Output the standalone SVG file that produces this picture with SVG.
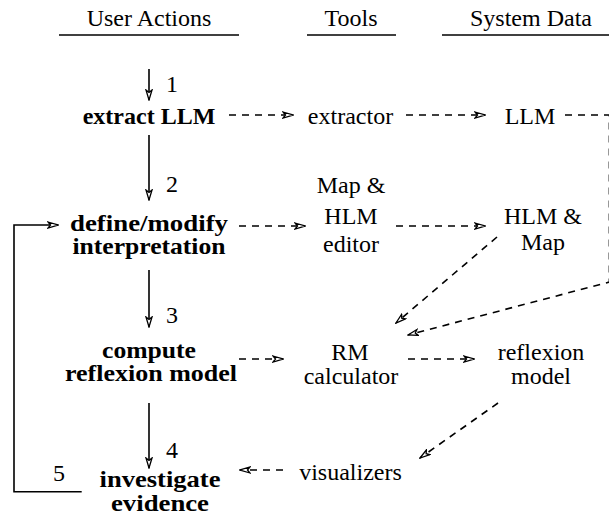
<svg xmlns="http://www.w3.org/2000/svg" width="609" height="519" viewBox="0 0 609 519" font-family="Liberation Serif, DejaVu Serif, serif" font-size="24">
<defs>
<marker id="ah" viewBox="0 0 12 8" markerWidth="12" markerHeight="8" refX="11" refY="4" orient="auto" markerUnits="userSpaceOnUse">
<path d="M1,1 L11,4 L1,7 L3.5,4 Z" fill="#fff" stroke="#000" stroke-width="1.3" stroke-dasharray="none" stroke-linejoin="miter"/>
</marker>
<style>
text{fill:#000;text-anchor:middle}
.b{font-weight:bold}
.n{text-anchor:start}
.rule{stroke:#000;stroke-width:1.3}
.solid{stroke:#000;stroke-width:1.6;fill:none}
.dash{stroke:#000;stroke-width:1.6;fill:none;stroke-dasharray:7 6}
.arr{marker-end:url(#ah)}
</style>
</defs>
<rect width="609" height="519" fill="#fff"/>
<g id="headers">
<text x="149" y="25.5">User Actions</text>
<line class="rule" x1="59" y1="35" x2="239" y2="35"/>
<text x="351" y="25.5">Tools</text>
<line class="rule" x1="307" y1="35" x2="396" y2="35"/>
<text x="531" y="25.5">System Data</text>
<line class="rule" x1="442" y1="35" x2="609" y2="35"/>
</g>
<g id="connectors">
<line class="solid arr" x1="149" y1="69" x2="149" y2="100"/>
<line class="solid arr" x1="149" y1="135" x2="149" y2="200"/>
<line class="solid arr" x1="149" y1="270" x2="149" y2="327"/>
<line class="solid arr" x1="149" y1="403" x2="149" y2="468"/>
<path class="solid arr" d="M81.7,491.7 L14,491.7 L14,225 L58,225"/>
<line class="dash arr" x1="229" y1="115" x2="293" y2="115"/>
<line class="dash arr" x1="406" y1="115" x2="485" y2="115"/>
<path class="dash arr" d="M565,115 L609.4,115 L609.4,282 L408,335"/>
<line class="dash arr" x1="239" y1="226" x2="305" y2="226"/>
<line class="dash arr" x1="396" y1="226" x2="485" y2="226"/>
<line class="dash arr" x1="497" y1="237" x2="396" y2="323"/>
<line class="dash arr" x1="239" y1="359" x2="283" y2="359"/>
<line class="dash arr" x1="408" y1="359" x2="474" y2="359"/>
<line class="dash arr" x1="498" y1="403" x2="420" y2="458"/>
<line class="dash arr" x1="283" y1="470" x2="240" y2="470"/>
</g>
<g id="step-labels">
<text class="n" x="166" y="92">1</text>
<text class="n" x="166" y="192">2</text>
<text class="n" x="166" y="323">3</text>
<text class="n" x="166" y="458">4</text>
<text class="n" x="53" y="481">5</text>
</g>
<g id="extract-llm"><text class="b" x="149" y="124">extract LLM</text></g>
<g id="extractor"><text x="350.5" y="124">extractor</text></g>
<g id="llm"><text x="530" y="124">LLM</text></g>
<g id="define-modify"><text class="b" x="149" y="231" textLength="158" lengthAdjust="spacingAndGlyphs">define/modify</text><text class="b" x="149" y="254" textLength="153" lengthAdjust="spacingAndGlyphs">interpretation</text></g>
<g id="map-hlm-editor"><text x="351" y="193">Map &amp;</text><text x="351" y="224">HLM</text><text x="351" y="252">editor</text></g>
<g id="hlm-map"><text x="543" y="224">HLM &amp;</text><text x="543" y="250">Map</text></g>
<g id="compute-rm"><text class="b" x="149" y="358" textLength="94" lengthAdjust="spacingAndGlyphs">compute</text><text class="b" x="151" y="381" textLength="172" lengthAdjust="spacingAndGlyphs">reflexion model</text></g>
<g id="rm-calculator"><text x="350" y="360">RM</text><text x="351" y="384">calculator</text></g>
<g id="reflexion-model"><text x="541" y="360">reflexion</text><text x="541" y="384">model</text></g>
<g id="visualizers"><text x="350.5" y="480">visualizers</text></g>
<g id="investigate"><text class="b" x="160" y="487" textLength="121" lengthAdjust="spacingAndGlyphs">investigate</text><text class="b" x="160" y="511" textLength="98" lengthAdjust="spacingAndGlyphs">evidence</text></g>
</svg>
